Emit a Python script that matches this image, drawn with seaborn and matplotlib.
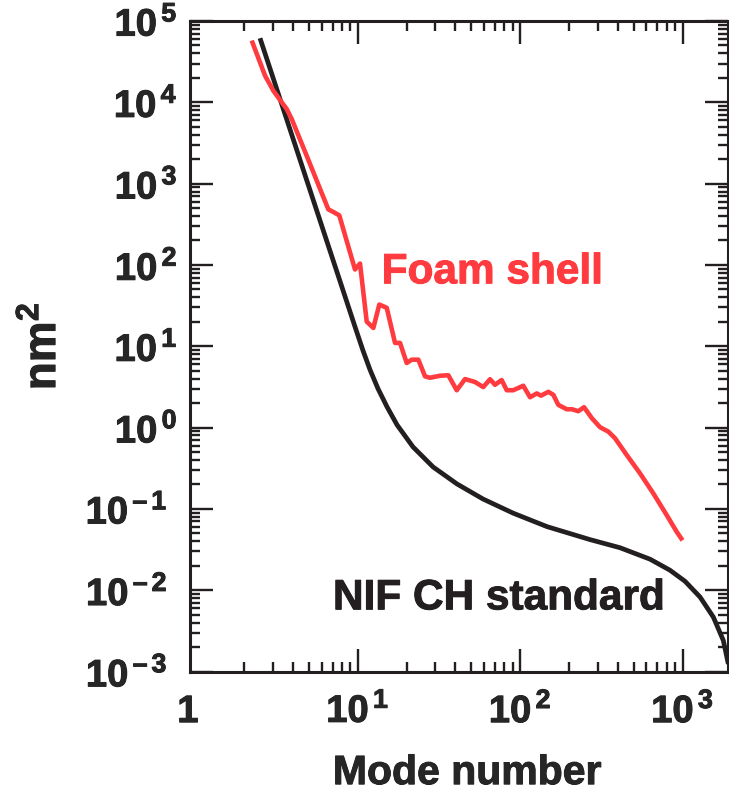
import matplotlib
matplotlib.use("Agg")
import matplotlib.pyplot as plt
import matplotlib.patheffects as pe
from matplotlib.transforms import ScaledTranslation
import seaborn as sns
import numpy as np
from matplotlib.ticker import FixedLocator, LogLocator, NullFormatter

# Roughness power spectra (nm^2) against Legendre mode number
nif_mode = [2.502, 3.171, 4.853, 7.79, 9.62, 10.78, 11.90, 13.34, 15.15,
            17.46, 21.90, 29.09, 40.89, 59.11, 90.4, 146.4, 269.4, 412, 631,
            837, 1036, 1282, 1548, 1783, 1914]
nif_power = [61500, 14600, 1101, 62.6, 17.4, 8.83, 5.15, 3.00, 1.80, 1.08,
             0.578, 0.328, 0.2024, 0.1322, 0.0888, 0.0605, 0.0419, 0.0333,
             0.02406, 0.01761, 0.01288, 0.00824, 0.00467, 0.00241, 0.00124]

foam_mode = [2.225, 2.687, 3.022, 3.655, 3.924, 4.853, 6.59, 7.08, 7.70,
             9.62, 10.33, 11.36, 12.48, 13.58, 15.09, 16.97, 18.22, 20.03,
             21.50, 23.62, 25.97, 27.87, 32.13, 36.13, 40.7, 45.8, 52.8,
             59.3, 65.3, 70.0, 77.0, 82.7, 90.8, 104.6, 115.1, 126.6, 134.5,
             149.2, 160.1, 171.9, 193.6, 208.7, 228.2, 247.5, 276, 310.5,
             349, 384, 453, 547, 661, 799, 921, 1000]
foam_power = [57500, 21300, 13900, 8260, 6220, 2196, 483, 448, 407, 88.0,
              104, 20.1, 16.8, 32.6, 29.7, 11.0, 11.0, 6.22, 6.84, 6.84,
              4.26, 4.10, 4.34, 4.40, 2.88, 3.95, 3.63, 3.15, 3.93, 3.36,
              3.84, 2.88, 2.88, 3.27, 2.36, 2.63, 2.47, 2.75, 2.53, 1.90,
              1.68, 1.68, 1.59, 1.78, 1.31, 1.01, 0.893, 0.740, 0.461,
              0.274, 0.155, 0.0839, 0.0522, 0.041]

x_ticks = [1, 10, 100, 1000]
x_tick_labels = ["$1$", "$10^{\\,1}$", "$10^{\\,2}$", "$10^{\\,3}$"]
y_ticks = [1e-3, 1e-2, 1e-1, 1e0, 1e1, 1e2, 1e3, 1e4, 1e5]
y_tick_labels = ["$10^{\\,\u2013\\,3}$", "$10^{\\,\u2013\\,2}$",
                 "$10^{\\,\u2013\\,1}$", "$10^{\\,0}$", "$10^{\\,1}$",
                 "$10^{\\,2}$", "$10^{\\,3}$", "$10^{\\,4}$", "$10^{\\,5}$"]

RED = "#ff3b3f"
BLACK = "#231f20"

sns.set_theme(style="ticks")
plt.rcParams["font.family"] = ["Liberation Sans", "DejaVu Sans"]
plt.rcParams["font.weight"] = "bold"
plt.rcParams["mathtext.fontset"] = "custom"
for key in ["rm", "it", "bf", "sf"]:
    plt.rcParams["mathtext." + key] = "Liberation Sans:bold"
plt.rcParams["mathtext.default"] = "rm"

fig = plt.figure(figsize=(7.29, 7.93), dpi=100)
ax = fig.add_axes([0.2606, 0.1532, 0.7380, 0.8203])

sns.lineplot(x=nif_mode, y=nif_power, ax=ax, color=BLACK, linewidth=3.4,
             estimator=None, sort=False, solid_capstyle="butt",
             solid_joinstyle="round")
sns.lineplot(x=foam_mode, y=foam_power, ax=ax, color=RED, linewidth=3.3,
             estimator=None, sort=False, solid_capstyle="butt",
             solid_joinstyle="round")

ax.set_xscale("log")
ax.set_yscale("log")
ax.set_xlim(0.927, 1905)
ax.set_ylim(1e-3, 1e5)

ax.xaxis.set_major_locator(FixedLocator(x_ticks))
ax.set_xticklabels(x_tick_labels)
ax.xaxis.set_minor_locator(LogLocator(base=10, subs=np.arange(2, 10), numticks=20))
ax.xaxis.set_minor_formatter(NullFormatter())
ax.yaxis.set_major_locator(FixedLocator(y_ticks))
ax.set_yticklabels(y_tick_labels)
ax.yaxis.set_minor_locator(LogLocator(base=10, subs=np.arange(2, 10), numticks=20))
ax.yaxis.set_minor_formatter(NullFormatter())

for side in ["left", "right", "top", "bottom"]:
    ax.spines[side].set_visible(True)
    ax.spines[side].set_linewidth(2.2)
    ax.spines[side].set_color(BLACK)

ax.tick_params(which="both", direction="in", top=True, right=True,
               color=BLACK, width=1.7)
ax.tick_params(which="major", length=16.5)
ax.tick_params(which="minor", length=7.5)
ax.tick_params(axis="x", which="major", labelsize=27.5, pad=36.5)
ax.tick_params(axis="y", which="major", labelsize=27.5, pad=9)

heavy = [pe.withStroke(linewidth=0.7, foreground=BLACK)]
for lab in ax.get_xticklabels():
    lab.set_verticalalignment("baseline")
for lab in ax.get_xticklabels() + ax.get_yticklabels():
    lab.set_fontweight("bold")
    lab.set_path_effects(heavy)

# negative exponents sit a little further left of the frame
for lab in ax.get_yticklabels()[:3]:
    lab.set_transform(lab.get_transform()
                      + ScaledTranslation(-0.10, 0, fig.dpi_scale_trans))

# the mode-1 position sits on the left frame edge; keep only its label
first = ax.xaxis.get_major_ticks()[0]
first.tick1line.set_visible(False)
first.tick2line.set_visible(False)
first.label1.set_transform(first.label1.get_transform()
                           + ScaledTranslation(-0.07, 0, fig.dpi_scale_trans))

ax.set_xlabel("Mode number", fontsize=29.5, fontweight="bold",
              path_effects=heavy)
ax.xaxis.set_label_coords(0.515, -0.127)
ax.set_ylabel("nm$^{2}$", fontsize=33, fontweight="bold", path_effects=heavy)
ax.yaxis.set_label_coords(-0.232, 0.5)

ax.text(0.3563, 0.5968, "Foam shell", transform=ax.transAxes, color=RED,
        fontsize=30.5, fontweight="bold", ha="left", va="baseline",
        path_effects=[pe.withStroke(linewidth=0.7, foreground=RED)])
ax.text(0.2658, 0.0956, "NIF CH standard", transform=ax.transAxes,
        color=BLACK, fontsize=30.5, fontweight="bold", ha="left",
        va="baseline", path_effects=heavy)

fig.savefig("out.png", dpi=100)
